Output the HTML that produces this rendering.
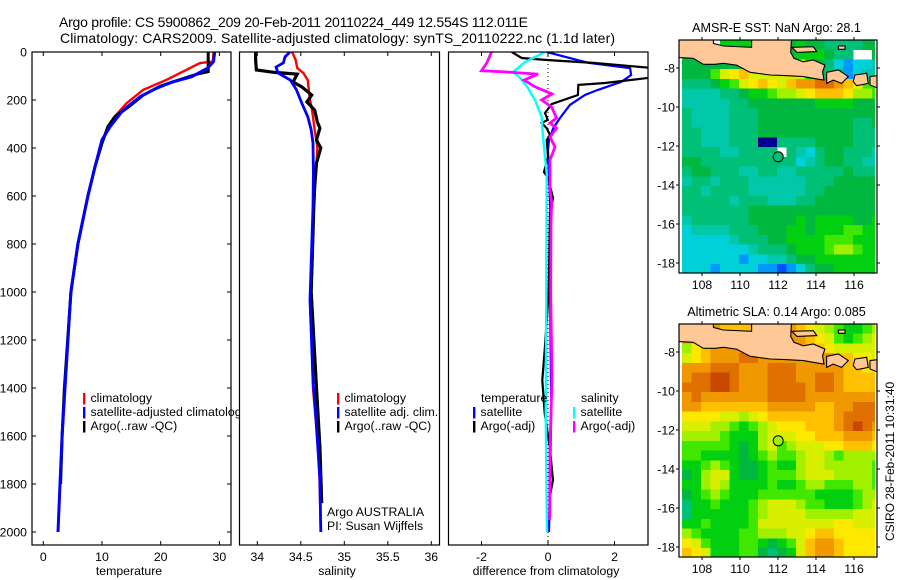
<!DOCTYPE html>
<html lang="en">
<head>
<meta charset="utf-8">
<title>Argo profile</title>
<style>
html,body{margin:0;padding:0;background:#fff;}
svg{display:block;font-family:"Liberation Sans",sans-serif;fill:#000;}
text{font-size:12.3px;}
</style>
</head>
<body>
<svg id="chart" xmlns="http://www.w3.org/2000/svg" width="900" height="580" viewBox="0 0 900 580">
<g id="root"></g>
<text x="59" y="27" style="font-size:14px" textLength="469">Argo profile: CS 5900862_209 20-Feb-2011 20110224_449 12.554S 112.011E</text>
<text x="60" y="43" style="font-size:14px" textLength="555">Climatology: CARS2009. Satellite-adjusted climatology: synTS_20110222.nc (1.1d later)</text>
<text x="776.5" y="32" text-anchor="middle" style="font-size:12.6px">AMSR-E SST: NaN Argo: 28.1</text>
<text x="776.5" y="316" text-anchor="middle" style="font-size:12.6px">Altimetric SLA: 0.14 Argo: 0.085</text>
<text transform="translate(894,541) rotate(-90)" style="font-size:12px">CSIRO 28-Feb-2011 10:31:40</text>
</svg>
<script>
// ---------- temperature panel data ----------
const tempClimDepth = [0,40,46,116,158,213,276,366,478,600,800,1000,1400,1600,1800,2000];
const tempClimValue = [29.0,28.9,26.7,21,17,14.2,11.9,10,8.8,7.6,5.9,4.7,3.65,3.2,2.85,2.5];
const tempSatDepth = [0,40,67,103,125,151,186,242,311,366,478,600,800,1000,1400,1600,1800,2000];
const tempSatValue = [29.2,29.0,28,25.3,22,19.3,16.5,13.6,11.4,10,8.8,7.6,5.9,4.7,3.7,3.2,2.85,2.5];
const tempArgoDepth = [0,82,90,125,143,180,229,270,311,380,478,600,800,1000,1400,1600,1800];
const tempArgoValue = [28.1,28.1,26.5,22,19.9,17,14.5,12.2,11,10,8.8,7.6,5.9,4.7,3.6,3.2,2.95];
// ---------- salinity panel data ----------
const salClimDepth = [0,33,67,88,117,187,242,325,395,478,562,700,1000,1400,1700,2000];
const salClimValue = [34.40,34.44,34.46,34.53,34.58,34.60,34.63,34.66,34.69,34.68,34.66,34.64,34.61,34.64,34.71,34.73];
const salSatDepth = [0,20,45,63,88,117,158,212,270,325,380,505,645,1033,1367,1505,1672,1783,2000];
const salSatValue = [34.376,34.32,34.30,34.215,34.24,34.38,34.45,34.51,34.58,34.62,34.64,34.645,34.64,34.606,34.64,34.67,34.70,34.72,34.73];
const salArgoDepth = [0,33,75,85,92,125,145,179,208,242,291,317,367,400,462,562,645,1000,1400,1645,1880];
const salArgoValue = [33.98,33.98,33.99,34.2,34.46,34.41,34.51,34.625,34.57,34.66,34.69,34.72,34.68,34.73,34.68,34.66,34.65,34.62,34.68,34.72,34.74];
// ---------- difference panel data ----------
const diffTempSatDepth = [0,45,67,96,124,158,179,221,275,317,367,408,700,1000,1500,2000];
const diffTempSatValue = [-0.04,1.21,2.47,2.5,2.21,1.5,1.11,0.66,0.36,0.16,0.03,0.0,0.08,0.06,0.1,0.03];
const diffTempArgoDepth = [0,25,33,46,71,100,129,137,179,217,254,283,296,317,346,367,437,500,525,608,671,1000,1242,1367,1505,1645,1783,1854];
const diffTempArgoValue = [-1.09,-0.79,-0.09,1.41,3.5,3.5,1.71,0.91,0.9,0.11,-0.09,-0.01,-0.19,-0.04,0.06,-0.04,0,-0.12,0,0.15,0.06,0.02,-0.1,-0.17,-0.1,0.05,0.15,0.05];
const diffSalSatDepth = [0,25,42,83,108,150,200,271,354,437,504,1000,1500,2000];
const diffSalSatValue = [-0.09,-0.45,-0.69,-1.05,-0.84,-0.6,-0.39,-0.19,-0.15,-0.09,-0.04,-0.05,-0.07,-0.03];
const diffSalArgoDepth = [0,46,78,83,92,117,145,175,200,229,275,296,317,354,396,450,575,629,700,1000,1367,1645,1950];
const diffSalArgoValue = [-1.7,-1.84,-2.0,-1.29,-0.3,-0.72,-0.39,0.12,-0.19,0.11,0.26,0.06,0.26,0.06,0.21,0.06,0.06,0.11,0.09,0.08,0.12,0.06,0.05];
// ---------- tick labels ----------
const depthTicks = [0,200,400,600,800,1000,1200,1400,1600,1800,2000];
const tempTicks = [0,10,20,30];
const salTicks = [34,34.5,35,35.5,36];
const diffTicks = [-2,0,2];
const lonTicks = [108,110,112,114,116];
const latTicks = [-8,-10,-12,-14,-16,-18];
// ---------- map data: colour-index grids, 0.5 degree cells, north to south, null = no data ----------
const gridLon0 = 106.95;
const gridLat0 = -6.56;
const gridStep = 0.5;
const sstRows = [
[6,6,6,null,7,7,7,7,6,6,6,6,7,6,6,5,5,5,5,6,6],
[6,6,6,6,7,7,7,7,6,6,6,6,7,7,7,6,5,5,null,null,6],
[6,6,6,6,6,6,6,6,6,6,6,6,10,7,6,5,3,2,3,3,4],
[6,6,6,8,10,11,12,10,10,10,10,10,10,7,6,5,5,2,3,4,4],
[5,5,5,6,7,8,10,11,12,11,10,12,13,13,14,14,13,12,11,8,8],
[4,4,4,4,5,5,6,7,7,8,9,9,10,11,12,12,12,11,9,9,8],
[4,4,4,4,4,5,5,6,6,6,6,6,6,6,7,7,7,7,6,6,6],
[5,4,4,4,4,5,5,5,6,6,6,6,6,6,6,6,6,6,6,6,6],
[5,4,4,4,4,5,5,5,6,6,6,6,6,6,6,6,6,6,5,5,6],
[5,5,4,4,4,5,5,5,6,6,6,6,6,6,6,6,6,6,5,5,5],
[5,5,4,4,4,5,5,5,0,0,5,5,5,5,6,6,6,6,5,5,5],
[5,5,5,5,4,4,5,5,5,5,null,5,4,3,5,6,6,5,5,5,4],
[6,6,5,5,5,5,5,5,5,5,5,5,3,4,5,6,6,5,5,4,4],
[5,6,6,5,5,5,4,4,5,5,4,4,5,5,5,5,5,6,5,5,5],
[4,5,5,4,5,5,5,4,4,4,4,4,4,5,5,5,6,6,6,6,6],
[5,5,4,5,5,5,5,4,4,4,4,4,4,5,5,6,6,6,6,6,6],
[5,5,5,5,5,4,5,5,5,4,4,4,5,5,6,6,6,6,6,6,6],
[5,5,5,5,5,5,5,6,6,6,6,6,6,6,6,6,6,6,6,6,6],
[4,5,5,5,5,5,5,6,6,6,6,6,7,6,7,7,7,7,6,6,7],
[3,4,4,4,4,5,5,5,6,6,6,7,7,6,7,7,7,8,8,7,7],
[3,3,3,3,3,4,5,5,5,6,6,7,7,7,7,8,8,8,7,7,7],
[3,3,3,3,3,3,3,4,5,5,5,6,7,7,7,8,9,9,8,7,7],
[3,3,3,3,3,3,2,3,3,4,4,5,6,6,7,7,7,7,7,7,7],
[3,3,3,2,3,3,3,3,2,2,1,2,3,5,6,6,7,7,7,7,7]
];
const slaRows = [
[13,13,13,13,12,12,12,12,13,13,13,13,12,11,10,9,8,7,7,8,9],
[13,13,13,13,13,13,13,13,13,13,13,13,13,12,11,10,8,7,8,9,10],
[9,11,12,13,13,13,13,13,13,13,13,13,13,12,12,11,10,10,10,10,10],
[10,11,12,13,13,13,14,14,13,13,13,13,13,13,13,13,12,12,11,11,10],
[13,13,13,14,14,14,13,13,13,14,14,14,13,13,13,13,13,12,12,11,11],
[13,14,14,15,15,14,13,13,13,14,14,14,13,13,14,14,13,12,12,12,12],
[14,14,14,15,15,14,13,13,13,14,14,14,14,13,14,14,13,12,12,12,12],
[13,14,13,13,13,13,13,13,13,14,14,14,14,13,13,13,13,13,13,13,13],
[13,13,12,12,12,12,12,12,12,13,13,13,13,13,12,12,13,13,14,14,14],
[11,11,11,11,10,10,9,10,11,12,12,12,12,12,12,12,13,14,14,14,14],
[10,10,10,9,9,8,7,8,9,10,11,11,11,12,12,12,13,14,15,14,13],
[9,9,9,9,8,7,7,7,9,10,10,10,11,11,12,12,12,13,13,13,12],
[8,8,8,8,8,7,6,7,9,10,8,9,10,10,10,11,11,12,12,12,11],
[8,8,7,7,7,7,6,7,8,9,8,8,9,10,10,9,8,9,9,9,9],
[7,7,8,9,8,7,6,6,7,8,7,7,9,10,10,9,9,9,9,9,8],
[6,7,9,10,10,7,6,6,7,8,8,8,9,10,10,10,9,9,9,9,8],
[7,7,9,10,9,7,7,7,7,8,7,7,8,9,9,8,8,8,9,9,8],
[6,7,8,9,8,7,7,7,8,8,8,8,8,8,7,7,7,7,8,9,9],
[5,7,7,8,7,7,7,8,9,10,10,10,9,8,8,7,7,7,8,9,10],
[5,7,7,7,7,7,7,8,9,10,10,10,10,9,9,9,9,9,10,10,10],
[7,7,8,7,7,7,7,8,10,10,10,10,10,10,10,10,11,11,10,10,10],
[9,8,7,7,7,7,8,8,9,9,9,10,10,11,12,12,11,11,11,11,11],
[11,10,8,7,7,7,8,8,7,6,7,8,10,12,13,13,12,11,11,11,11],
[12,11,10,7,7,7,8,8,6,5,6,7,10,12,13,13,12,11,11,11,11]
];
const argoLon = 112.011;
const argoLat = -12.554;
const argoSstIndex = 5;
const argoSlaIndex = 9;
// ---------- coast outlines, lon / lat ----------
const javaLon = [106.5,108.6,108.6,109.12,110.61,110.61,112.72,112.67,112.84,113.33,113.86,114.47,114.35,114.42,114.04,113.33,112.37,111.58,110.53,109.82,109.12,108.68,108.07,107.54,106.5];
const javaLat = [-6.3,-6.3,-6.74,-6.87,-6.94,-6.3,-6.3,-7.2,-7.5,-7.68,-7.59,-7.85,-8.2,-8.62,-8.56,-8.44,-8.39,-8.36,-8.22,-7.85,-7.76,-7.81,-7.81,-7.50,-7.45];
const baliLon = [114.56,115.18,115.70,115.35,114.91,114.56];
const baliLat = [-8.22,-8.10,-8.44,-8.79,-8.62,-8.79];
const lombokLon = [116.05,116.67,116.75,116.14,115.96];
const lombokLat = [-8.36,-8.27,-8.79,-8.91,-8.70];
const sumbawaLon = [116.84,117.5,117.5,116.84];
const sumbawaLat = [-8.44,-8.36,-9.13,-8.87];
const maduraLon = [112.72,113.86,114.04,113.0];
const maduraLat = [-6.94,-6.91,-7.16,-7.2];
const kangeanLon = [115.18,115.53,115.53,115.18];
const kangeanLat = [-6.87,-6.87,-7.04,-7.04];
const palette = ['#00008c','#0050ff','#0098ff','#00d0d8','#00c8a8','#00c078','#00b840','#00d010','#40e800','#a0f000','#d8f000','#ffe800','#ffc000','#f09800','#e07000','#c84800'];

const NS = 'http://www.w3.org/2000/svg';
const root = document.getElementById('root');
function mk(tag, parent, attrs, txt){
  const el = document.createElementNS(NS, tag);
  for (const k in attrs) el.setAttribute(k, attrs[k]);
  if (txt !== undefined) el.textContent = txt;
  parent.appendChild(el);
  return el;
}
// axis functions
const yDepth = d => 52 + d * 0.24;
const xTemp = v => 43.3 + v * 5.87;
const xSal = v => 257.3 + (v - 34) * 87;
const xDiff = v => 548 + v * 33.25;
const xLon = lon => 778 + (lon - 112) * 19;
const yLat = (lat, top) => top + 28 - (lat + 8) * 19.5;

function addClip(id, x, y, w, h){
  let defs = document.getElementById('defs');
  if (!defs) { defs = mk('defs', root, {id:'defs'}); }
  const c = mk('clipPath', defs, {id:id});
  mk('rect', c, {x:x, y:y, width:w, height:h});
}
function series(parent, name, depth, vals, xf, color, width, clip){
  const pts = vals.map((v,i) => xf(v).toFixed(1) + ',' + yDepth(depth[i]).toFixed(1)).join(' ');
  const el = mk('polyline', parent, {points:pts, fill:'none', stroke:color, 'stroke-width':width, 'stroke-linejoin':'miter', 'clip-path':'url(#'+clip+')'});
  
  
}
function frame(parent, name, x, y, w, h){
  const el = mk('rect', parent, {x:x, y:y, width:w, height:h, fill:'none', stroke:'#000', 'stroke-width':1.2});
  
  
}
function legendEntry(parent, name, x, y, color, label){
  const g = mk('g', parent, {});
  
  
  if (color) mk('rect', g, {x:x-1, y:y-9, width:2.4, height:11.5, fill:color});
  mk('text', g, {x:x+6.5, y:y}, label);
}
function xAxis(parent, name, ticks, xf, left, right, top, bottom, title, cx){
  const g = mk('g', parent, {});
  
  
  ticks.forEach(t => {
    const x = xf(t);
    mk('line', g, {x1:x, x2:x, y1:bottom, y2:bottom-4, stroke:'#000'});
    mk('line', g, {x1:x, x2:x, y1:top, y2:top+4, stroke:'#000'});
    mk('text', g, {x:x, y:561, 'text-anchor':'middle'}, String(t));
  });
  mk('text', g, {x:cx, y:575, 'text-anchor':'middle'}, title);
}

// ---------- panel 1 ----------
addClip('clipT', 32, 52, 199, 493);
const p1 = mk('g', root, {});


series(p1, 'temperature-climatology-line', tempClimDepth, tempClimValue, xTemp, '#f00', 2.4, 'clipT');
series(p1, 'temperature-argo-line', tempArgoDepth, tempArgoValue, xTemp, '#000', 3, 'clipT');
series(p1, 'temperature-satellite-line', tempSatDepth, tempSatValue, xTemp, '#00f', 3, 'clipT');
legendEntry(p1, 'legend-climatology', 84, 402, '#f00', 'climatology');
legendEntry(p1, 'legend-satellite-adjusted', 84, 416, '#00f', 'satellite-adjusted climatology');
legendEntry(p1, 'legend-argo', 84, 430, '#000', 'Argo(..raw -QC)');
const yAx = mk('g', p1, {});


depthTicks.forEach(d => {
  const y = yDepth(d);
  mk('line', yAx, {x1:32, x2:36, y1:y, y2:y, stroke:'#000'});
  mk('line', yAx, {x1:231, x2:227, y1:y, y2:y, stroke:'#000'});
  mk('text', yAx, {x:27, y:y+4.5, 'text-anchor':'end'}, String(d));
});
xAxis(p1, 'temperature-axis', tempTicks, xTemp, 32, 231, 52, 545, 'temperature', 129);

// ---------- panel 2 ----------
addClip('clipS', 239, 52, 201, 493);
const p2 = mk('g', root, {});


mk('rect', p2, {x:239, y:52, width:209, height:494, fill:'#fff'});
frame(p1, 'temperature-panel-frame', 32, 52, 199, 493);
series(p2, 'salinity-climatology-line', salClimDepth, salClimValue, xSal, '#f00', 2.4, 'clipS');
series(p2, 'salinity-argo-line', salArgoDepth, salArgoValue, xSal, '#000', 3.2, 'clipS');
series(p2, 'salinity-satellite-line', salSatDepth, salSatValue, xSal, '#00f', 2.8, 'clipS');
legendEntry(p2, 'legend-climatology', 338, 402, '#f00', 'climatology');
legendEntry(p2, 'legend-satellite-adj', 338, 416, '#00f', 'satellite adj. clim.');
legendEntry(p2, 'legend-argo', 338, 430, '#000', 'Argo(..raw -QC)');
legendEntry(p2, 'argo-australia-note', 320.5, 516, null, 'Argo AUSTRALIA');
legendEntry(p2, 'pi-note', 320.5, 530, null, 'PI: Susan Wijffels');
xAxis(p2, 'salinity-axis', salTicks, xSal, 239, 440, 52, 545, 'salinity', 337);
frame(p2, 'salinity-panel-frame', 239.5, 52, 200, 493);

// ---------- panel 3 ----------
addClip('clipD', 448.5, 52, 199.5, 493);
const p3 = mk('g', root, {});


const zeroLine = mk('line', p3, {x1:xDiff(0), x2:xDiff(0), y1:52, y2:545, stroke:'#000', 'stroke-dasharray':'1 3'});


series(p3, 'difference-temperature-satellite-line', diffTempSatDepth, diffTempSatValue, xDiff, '#00f', 2.2, 'clipD');
series(p3, 'difference-temperature-argo-line', diffTempArgoDepth, diffTempArgoValue, xDiff, '#000', 2.2, 'clipD');
series(p3, 'difference-salinity-satellite-line', diffSalSatDepth, diffSalSatValue, xDiff, '#0ff', 2.4, 'clipD');
series(p3, 'difference-salinity-argo-line', diffSalArgoDepth, diffSalArgoValue, xDiff, '#f0f', 2.8, 'clipD');
legendEntry(p3, 'legend-temperature-heading', 474.5, 402, null, 'temperature');
legendEntry(p3, 'legend-temperature-satellite', 474, 416, '#00f', 'satellite');
legendEntry(p3, 'legend-temperature-argo', 474, 430, '#000', 'Argo(-adj)');
legendEntry(p3, 'legend-salinity-heading', 574.5, 402, null, 'salinity');
legendEntry(p3, 'legend-salinity-satellite', 574, 416, '#0ff', 'satellite');
legendEntry(p3, 'legend-salinity-argo', 574, 430, '#f0f', 'Argo(-adj)');
xAxis(p3, 'difference-axis', diffTicks, xDiff, 448, 648, 52, 545, 'difference from climatology', 546);
frame(p3, 'difference-panel-frame', 448.5, 52, 199.5, 493);

// ---------- maps ----------
function drawMap(name, top, rows, argoIndex){
  const g = mk('g', root, {});
  
  
  const clipId = 'clip' + top, dataClipId = 'dclip' + top;
  addClip(clipId, 679, top, 198, 233);
  addClip(dataClipId, 682, top, 193, 233);
  const cells = mk('g', g, {'clip-path':'url(#'+dataClipId+')', 'shape-rendering':'crispEdges'});
  rows.forEach((row, r) => {
    row.forEach((val, c) => {
      if (val === null) return;
      const lon = gridLon0 + c * gridStep;
      const lat = gridLat0 - r * gridStep;
      const el = mk('rect', cells, {
        x: xLon(lon).toFixed(2),
        y: yLat(lat, top).toFixed(2),
        width: (xLon(lon + gridStep) - xLon(lon) + 0.5).toFixed(2),
        height: (yLat(lat - gridStep, top) - yLat(lat, top) + 0.5).toFixed(2),
        fill: palette[Math.max(0, Math.min(15, val))]
      });
      
      
    });
  });
  const land = mk('g', g, {'clip-path':'url(#'+clipId+')'});
  [[javaLon,javaLat,'java'],[baliLon,baliLat,'bali'],[lombokLon,lombokLat,'lombok'],[sumbawaLon,sumbawaLat,'sumbawa'],[maduraLon,maduraLat,'madura'],[kangeanLon,kangeanLat,'kangean']].forEach(s => {
    const pts = s[0].map((lon,i) => xLon(lon).toFixed(1) + ',' + yLat(s[1][i], top).toFixed(1)).join(' ');
    const el = mk('polygon', land, {points:pts, fill:'#ffc896', stroke:'#000', 'stroke-width':1.1});
    
    
  });
  const marker = mk('circle', g, {cx:xLon(argoLon), cy:yLat(argoLat, top), r:5, fill:palette[argoIndex], stroke:'#000', 'stroke-width':1});
  
  
  frame(g, 'map-frame', 679, top, 198, 233);
  const ax = mk('g', g, {});
  
  
  lonTicks.forEach(t => {
    const x = xLon(t);
    mk('line', ax, {x1:x, x2:x, y1:top, y2:top-3, stroke:'#000'});
    mk('line', ax, {x1:x, x2:x, y1:top+233, y2:top+236, stroke:'#000'});
    mk('text', ax, {x:x, y:top+249, 'text-anchor':'middle'}, String(t));
  });
  latTicks.forEach(t => {
    const y = yLat(t, top);
    mk('line', ax, {x1:679, x2:676, y1:y, y2:y, stroke:'#000'});
    mk('line', ax, {x1:877, x2:880, y1:y, y2:y, stroke:'#000'});
    mk('text', ax, {x:675, y:y+4.5, 'text-anchor':'end'}, String(t));
  });
}
drawMap('sst-map', 40, sstRows, argoSstIndex);
drawMap('sla-map', 324, slaRows, argoSlaIndex);
</script>
</body>
</html>
